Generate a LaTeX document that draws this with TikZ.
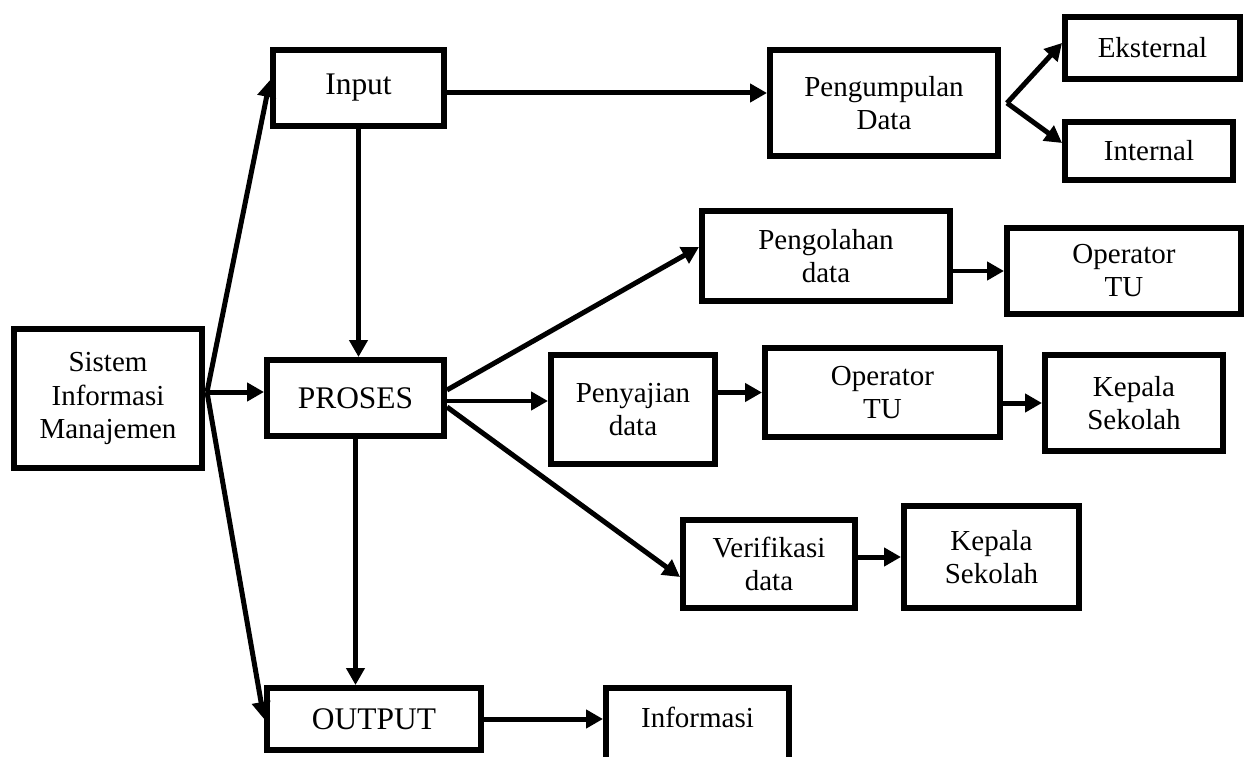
\documentclass[tikz,border=0pt]{standalone}
\usepackage{fontspec}
\setmainfont{Liberation Serif}
\usetikzlibrary{arrows.meta}
\tikzstyle{box}=[
    draw = black,
    line width = 0.12cm,
    fill = white,
    align = center,
    inner sep = 0pt,
    font = \fontsize{16.5}{18.8}\selectfont
]
\tikzstyle{big box}=[
    box,
    font = \fontsize{17.9}{20}\selectfont
]
\begin{document}
\begin{tikzpicture}[x=0.02cm, y=-0.02cm, flow/.style = {line width=0.1cm, -{Triangle[length=0.34cm, width=0.36cm]}}]
        \useasboundingbox (0,0) rectangle (1249,757);

        \node[box, minimum width=3.76cm, minimum height=2.78cm] (sim) at (108,398.5) {Sistem\\Informasi\\Manajemen};
        \node[big box, minimum width=3.42cm, minimum height=1.52cm] (input) at (358.5,88) {Input};
        \node[big box, minimum width=3.54cm, minimum height=1.52cm] (proses) at (355.5,398) {PROSES};
        \node[big box, minimum width=4.28cm, minimum height=1.24cm] (output) at (374,719) {OUTPUT};
        \node[box, minimum width=4.56cm, minimum height=2.12cm] (kumpul) at (884,103) {Pengumpulan\\Data};
        \node[box, minimum width=3.5cm, minimum height=1.24cm] (eks) at (1152.5,48) {Eksternal};
        \node[box, minimum width=3.36cm, minimum height=1.16cm] (inter) at (1149,151) {Internal};
        \node[box, minimum width=4.96cm, minimum height=1.8cm] (olah) at (826,256) {Pengolahan\\data};
        \node[box, minimum width=4.68cm, minimum height=1.72cm] (optu1) at (1124,271) {Operator\\TU};
        \node[box, minimum width=3.28cm, minimum height=2.18cm] (saji) at (633,409.5) {Penyajian\\data};
        \node[box, minimum width=4.7cm, minimum height=1.78cm] (optu2) at (882.5,392.5) {Operator\\TU};
        \node[box, minimum width=3.56cm, minimum height=1.92cm] (kepsek1) at (1134,403) {Kepala\\Sekolah};
        \node[box, minimum width=3.44cm, minimum height=1.76cm] (verif) at (769,564) {Verifikasi\\data};
        \node[box, minimum width=3.5cm, minimum height=2.04cm] (kepsek2) at (991.5,557) {Kepala\\Sekolah};
        \node[box, anchor=north, minimum width=3.66cm, text height=0.79cm, text depth=0.9cm] (info) at (697.5,685) {Informasi};

        \coordinate (simfork) at (207,392);
        \coordinate (kumpulfork) at (1007,103);

        \draw[flow] (simfork) -- ([yshift=0.16cm]input.west);
        \draw[flow] (simfork) -- (simfork -| proses.west);
        \draw[flow] (simfork) -- (output.west);
        \draw[flow] (input.south) -- (input.south |- proses.north);
        \draw[flow] ([yshift=-0.1cm]input.east) -- ([yshift=-0.1cm]input.east -| kumpul.west);
        \draw[flow] (kumpulfork) -- ([yshift=0.1cm]eks.west);
        \draw[flow] (kumpulfork) -- ([yshift=0.16cm]inter.west);
        \draw[flow] ([yshift=0.16cm]proses.east) -- ([yshift=0.18cm]olah.west);
        \draw[flow] ([yshift=-0.06cm]proses.east) -- ([yshift=-0.06cm]proses.east -| saji.west);
        \draw[flow] ([yshift=-0.18cm]proses.east) -- ([yshift=-0.26cm]verif.west);
        \draw[flow] (olah.east |- optu1.west) -- (optu1.west);
        \draw[flow] (saji.east |- optu2.west) -- (optu2.west);
        \draw[flow] (optu2.east |- kepsek1.west) -- (kepsek1.west);
        \draw[flow] (verif.east |- kepsek2.west) -- (kepsek2.west);
        \draw[flow] (proses.south) -- (proses.south |- output.north);
        \draw[flow] (output.east) -- (output.east -| info.west);

    \end{tikzpicture}
\end{document}
